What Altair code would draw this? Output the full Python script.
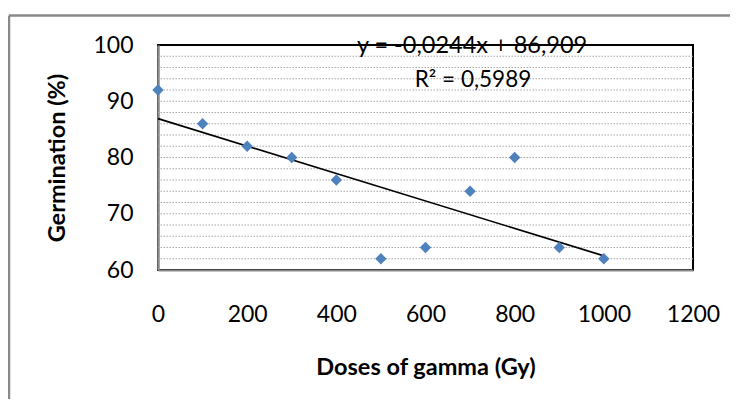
import altair as alt
import pandas as pd

doses = [0, 100, 200, 300, 400, 500, 600, 700, 800, 900, 1000]
germination = [92, 86, 82, 80, 76, 62, 64, 74, 80, 64, 62]

slope = -0.0244
intercept = 86.909
trend_x = [0, 1000]
eq_text = "y = -0,0244x + 86,909"
r2_text = "R² = 0,5989"

x_ticks = [0, 200, 400, 600, 800, 1000, 1200]
y_ticks = [60, 70, 80, 90, 100]
y_grid = list(range(62, 100, 2))

FONT = "Lato"
BLUE = "#4F81BD"
GRAY = "#8a8a8a"

df = pd.DataFrame({"dose": doses, "germ": germination})
trend = pd.DataFrame({"dose": trend_x, "germ": [intercept + slope * v for v in trend_x]})
grid = pd.DataFrame({"g": y_grid})

W, H = 535, 225

xscale = alt.Scale(domain=[0, 1200], nice=False, zero=False)
yscale = alt.Scale(domain=[60, 100], nice=False, zero=False)

xaxis = alt.Axis(
    values=x_ticks, grid=False, ticks=False, domainColor=GRAY, domainWidth=2,
    format="d", labelOverlap=False,
    labelFont=FONT, labelFontSize=23, labelColor="#000", labelPadding=44,
    labelBaseline="middle", labelFlush=False,
    title="Doses of gamma (Gy)", titleFont=FONT, titleFontSize=23.5, titleFontWeight="bold",
    titleColor="#000", titleX=W / 2, titleY=97, titleBaseline="middle", titleAlign="center",
)
yaxis = alt.Axis(
    values=y_ticks, grid=False, ticks=False, domainColor=GRAY, domainWidth=2.5,
    format="d", labelOverlap=False,
    labelFont=FONT, labelFontSize=23, labelColor="#000", labelPadding=25, labelFlush=False,
    title="Germination (%)", titleFont=FONT, titleFontSize=23.5, titleFontWeight="bold",
    titleColor="#000", titleX=-101, titleY=H / 2, titleAngle=-90,
    titleBaseline="middle", titleAlign="center",
)

gridlines = alt.Chart(grid).mark_rule(color="#a8a8a8", strokeWidth=1.2, strokeDash=[1.5, 1.5]).encode(
    y=alt.Y("g:Q", scale=yscale, axis=yaxis),
)

points = alt.Chart(df).mark_point(shape="diamond", filled=True, size=130, color=BLUE, opacity=1).encode(
    x=alt.X("dose:Q", scale=xscale, axis=xaxis),
    y=alt.Y("germ:Q", scale=yscale),
)

line = alt.Chart(trend).mark_line(color="#000", strokeWidth=1.6).encode(
    x=alt.X("dose:Q", scale=xscale),
    y=alt.Y("germ:Q", scale=yscale),
)

eq = alt.Chart(pd.DataFrame({"t": [eq_text]})).mark_text(
    font=FONT, fontSize=23.5, color="#000", align="center", baseline="middle"
).encode(text="t:N", x=alt.value(314), y=alt.value(1))

r2 = alt.Chart(pd.DataFrame({"t": [r2_text]})).mark_text(
    font=FONT, fontSize=22.5, color="#000", align="center", baseline="middle"
).encode(text="t:N", x=alt.value(315), y=alt.value(34.5))

top_border = alt.Chart(pd.DataFrame({"a": [0]})).mark_rule(color=GRAY, strokeWidth=2.5).encode(
    x=alt.value(-149), x2=alt.value(580), y=alt.value(-29.5)
)
left_border = alt.Chart(pd.DataFrame({"a": [0]})).mark_rule(color=GRAY, strokeWidth=2.5).encode(
    x=alt.value(-149), y=alt.value(-29.5), y2=alt.value(360)
)

chart = alt.layer(gridlines, line, points, eq, r2, top_border, left_border).properties(
    width=W, height=H,
    autosize=alt.AutoSizeParams(type="none"),
    padding={"left": 150, "top": 37, "right": 37, "bottom": 129},
    background="white",
).configure_view(stroke="#000", strokeWidth=2)

chart.save("out.html", embed_options={"renderer": "svg", "actions": False})
